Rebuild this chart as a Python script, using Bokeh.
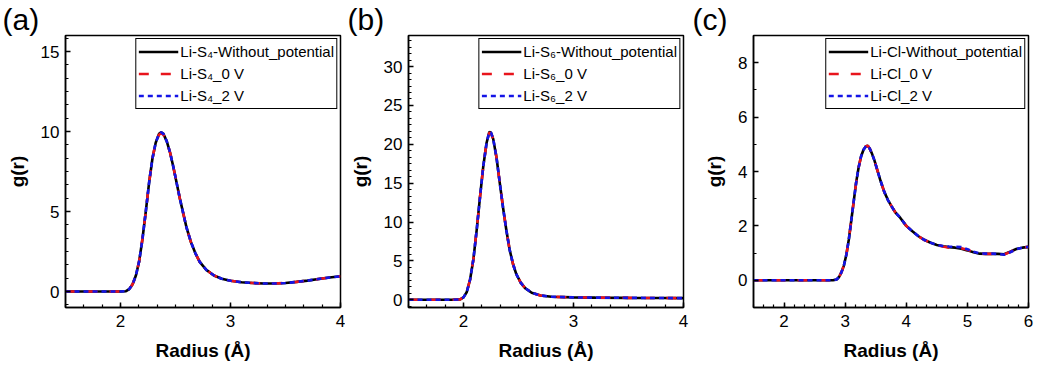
from bokeh.plotting import figure
from bokeh.layouts import row
from bokeh.models import Legend, LegendItem, FixedTicker, Range1d
from bokeh.embed import file_html
from bokeh.resources import INLINE

# ---------------- data ----------------
# (a) Li-S4
r_s4 = [1.5, 1.8, 2.0, 2.05, 2.08, 2.11, 2.14, 2.17, 2.20, 2.23, 2.26, 2.29, 2.32, 2.35, 2.37,
        2.39, 2.42, 2.45, 2.48, 2.51, 2.54, 2.57, 2.60, 2.64, 2.68, 2.72, 2.78, 2.85, 2.92, 3.0,
        3.1, 3.2, 3.3, 3.4, 3.5, 3.6, 3.7, 3.8, 3.9, 4.0]
g_s4_nopot = [0, 0, 0, 0.02, 0.15, 0.45, 1.0, 1.9, 3.3, 5.0, 6.8, 8.3, 9.3, 9.85, 9.95,
              9.85, 9.4, 8.7, 7.8, 6.8, 5.8, 4.9, 4.0, 3.1, 2.4, 1.85, 1.35, 1.0, 0.8, 0.67,
              0.58, 0.53, 0.5, 0.5, 0.53, 0.6, 0.68, 0.78, 0.87, 0.95]
g_s4_0v = [0, 0, 0, 0.02, 0.15, 0.45, 1.0, 1.9, 3.3, 5.0, 6.8, 8.3, 9.3, 9.8, 9.9,
           9.8, 9.4, 8.7, 7.8, 6.8, 5.8, 4.9, 4.0, 3.1, 2.4, 1.85, 1.35, 1.0, 0.8, 0.67,
           0.58, 0.53, 0.5, 0.5, 0.53, 0.6, 0.68, 0.78, 0.87, 0.95]
g_s4_2v = [0, 0, 0, 0.02, 0.15, 0.45, 1.0, 1.9, 3.3, 5.0, 6.8, 8.3, 9.3, 9.85, 9.95,
           9.85, 9.4, 8.7, 7.8, 6.8, 5.8, 4.9, 4.0, 3.1, 2.4, 1.85, 1.35, 1.0, 0.8, 0.67,
           0.58, 0.53, 0.5, 0.5, 0.53, 0.6, 0.68, 0.78, 0.87, 0.95]

# (b) Li-S6
r_s6 = [1.5, 1.9, 1.97, 2.0, 2.03, 2.06, 2.09, 2.12, 2.15, 2.18, 2.21, 2.235, 2.25, 2.27, 2.30,
        2.33, 2.36, 2.39, 2.42, 2.45, 2.48, 2.52, 2.56, 2.62, 2.7, 2.8, 3.0, 3.2, 3.5, 3.8, 4.0]
g_s6_nopot = [0, 0, 0.05, 0.3, 1.0, 2.6, 5.2, 9.0, 13.2, 17.2, 20.2, 21.6, 21.5, 20.7, 18.3,
              15.0, 11.8, 8.9, 6.4, 4.6, 3.3, 2.2, 1.5, 0.9, 0.55, 0.38, 0.3, 0.27, 0.24, 0.22, 0.2]
g_s6_0v = [0, 0, 0.05, 0.3, 1.0, 2.6, 5.2, 9.0, 13.2, 17.2, 20.2, 21.5, 21.4, 20.7, 18.3,
           15.0, 11.8, 8.9, 6.4, 4.6, 3.3, 2.2, 1.5, 0.9, 0.55, 0.38, 0.3, 0.27, 0.24, 0.22, 0.2]
g_s6_2v = [0, 0, 0.05, 0.3, 1.0, 2.6, 5.2, 9.0, 13.2, 17.2, 20.2, 21.6, 21.5, 20.7, 18.3,
           15.0, 11.8, 8.9, 6.4, 4.6, 3.3, 2.2, 1.5, 0.9, 0.55, 0.38, 0.3, 0.27, 0.24, 0.22, 0.2]

# (c) Li-Cl
r_cl = [1.5, 2.5, 2.8, 2.86, 2.90, 2.94, 2.98, 3.02, 3.06, 3.10, 3.14, 3.18, 3.22, 3.26, 3.30,
        3.34, 3.37, 3.40, 3.44, 3.48, 3.52, 3.58, 3.64, 3.70, 3.76, 3.82, 3.90, 4.0, 4.1, 4.2,
        4.3, 4.4, 4.5, 4.6, 4.7, 4.8, 4.9, 5.0, 5.1, 5.2, 5.3, 5.4, 5.5, 5.6, 5.7, 5.8, 5.9, 6.0]
g_cl_nopot = [0, 0, 0, 0.03, 0.12, 0.3, 0.55, 0.95, 1.5, 2.2, 2.9, 3.6, 4.15, 4.55, 4.8,
              4.93, 4.95, 4.85, 4.65, 4.4, 4.1, 3.65, 3.25, 2.95, 2.72, 2.5, 2.3, 2.0, 1.8, 1.62,
              1.48, 1.38, 1.3, 1.25, 1.22, 1.2, 1.16, 1.1, 1.03, 0.98, 0.97, 0.97, 0.97, 0.96, 1.05, 1.15, 1.2, 1.23]
g_cl_0v = [0, 0, 0, 0.03, 0.12, 0.3, 0.55, 0.95, 1.5, 2.2, 2.9, 3.6, 4.15, 4.55, 4.8,
           4.93, 4.95, 4.85, 4.65, 4.4, 4.1, 3.65, 3.25, 2.95, 2.72, 2.5, 2.3, 2.0, 1.8, 1.62,
           1.48, 1.38, 1.3, 1.24, 1.2, 1.2, 1.18, 1.12, 1.04, 0.98, 0.97, 0.97, 0.97, 0.95, 1.04, 1.15, 1.2, 1.23]
g_cl_2v = [0, 0, 0, 0.03, 0.12, 0.3, 0.55, 0.95, 1.5, 2.2, 2.9, 3.6, 4.15, 4.55, 4.8,
           4.93, 4.95, 4.85, 4.65, 4.4, 4.1, 3.65, 3.25, 2.95, 2.72, 2.5, 2.3, 2.0, 1.8, 1.62,
           1.48, 1.38, 1.3, 1.26, 1.24, 1.23, 1.22, 1.14, 1.05, 0.99, 0.98, 0.98, 0.97, 0.94, 1.03, 1.14, 1.2, 1.23]

labels_a = ["Li-S\u2084-Without_potential", "Li-S\u2084_0 V", "Li-S\u2084_2 V"]
labels_b = ["Li-S\u2086-Without_potential", "Li-S\u2086_0 V", "Li-S\u2086_2 V"]
labels_c = ["Li-Cl-Without_potential", "Li-Cl_0 V", "Li-Cl_2 V"]
panel_letters = ["(a)", "(b)", "(c)"]

xticks_ab = [2, 3, 4]
xticks_c = [2, 3, 4, 5, 6]
yticks_a = [0, 5, 10, 15]
yticks_b = [0, 5, 10, 15, 20, 25, 30]
yticks_c = [0, 2, 4, 6, 8]

FONT = "Liberation Sans"
H = 367


def minors(lo, hi, step):
    out = []
    k = int(round(lo / step)) - 1
    while k * step <= hi + 1e-9:
        v = k * step
        if v >= lo - 1e-9:
            out.append(round(v, 6))
        k += 1
    return out


def panel(r, g0, g1, g2, labels, letter, xr, yr, xt, yt, xminor, yminor, width, left, right):
    p = figure(width=width, height=H, x_range=Range1d(*xr), y_range=Range1d(*yr),
               output_backend="svg", toolbar_location=None,
               min_border_left=left, min_border_right=right,
               min_border_top=33, min_border_bottom=60)
    p.grid.visible = False
    p.outline_line_color = "black"
    p.outline_line_width = 1.5
    p.outline_line_alpha = 1.0
    p.background_fill_color = "white"
    p.border_fill_color = "white"

    # panel letter as title, pushed to the left edge of the figure
    p.title.text = letter
    p.title.text_font = FONT
    p.title.text_font_size = "30px"
    p.title.text_font_style = "normal"
    p.title.text_color = "black"
    p.title.align = "left"
    p.title.offset = -left + 2
    p.title.standoff = 0

    p.xaxis.ticker = FixedTicker(ticks=xt, minor_ticks=minors(xr[0], xr[1], xminor))
    p.yaxis.ticker = FixedTicker(ticks=yt, minor_ticks=minors(yr[0], yr[1], yminor))
    for ax in (p.xaxis[0], p.yaxis[0]):
        ax.axis_line_width = 1.5
        ax.axis_line_color = "black"
        ax.major_tick_in = 5
        ax.major_tick_out = 0
        ax.minor_tick_in = 3
        ax.minor_tick_out = 0
        ax.major_tick_line_width = 1.5
        ax.minor_tick_line_width = 1.2
        ax.major_label_text_font = FONT
        ax.major_label_text_font_size = "17px"
        ax.major_label_text_color = "black"
        ax.axis_label_text_font = FONT
        ax.axis_label_text_font_size = "19px"
        ax.axis_label_text_font_style = "bold"
        ax.axis_label_text_color = "black"
    p.xaxis.axis_label = "Radius (\u00c5)"
    p.yaxis.axis_label = "g(r)"
    p.xaxis.major_label_standoff = 7
    p.xaxis.axis_label_standoff = 10
    p.yaxis.major_label_standoff = 6
    p.yaxis.axis_label_standoff = 10

    l0 = p.line(r, g0, line_color="black", line_width=2.6)
    l1 = p.line(r, g1, line_color="#e8141c", line_width=2.6, line_dash="10 12")
    l2 = p.line(r, g2, line_color="#1414e6", line_width=2.6, line_dash="5 4")

    leg = Legend(items=[LegendItem(label=labels[0], renderers=[l0]),
                        LegendItem(label=labels[1], renderers=[l1]),
                        LegendItem(label=labels[2], renderers=[l2])],
                 location="top_right")
    leg.border_line_color = "black"
    leg.border_line_width = 1.5
    leg.border_line_alpha = 1.0
    leg.background_fill_color = "white"
    leg.background_fill_alpha = 1.0
    leg.margin = 3
    leg.padding = 2
    leg.spacing = 1
    leg.label_height = 21
    leg.glyph_height = 21
    leg.glyph_width = 40
    leg.label_standoff = 2
    leg.label_text_font = FONT
    leg.label_text_font_size = "15px"
    leg.label_text_color = "black"
    p.add_layout(leg)
    return p


pa = panel(r_s4, g_s4_nopot, g_s4_0v, g_s4_2v, labels_a, panel_letters[0], (1.5, 4), (-1, 16),
           xticks_ab, yticks_a, 1 / 6, 5 / 6, 345, 65, 5)
pb = panel(r_s6, g_s6_nopot, g_s6_0v, g_s6_2v, labels_b, panel_letters[1], (1.5, 4), (-1, 34),
           xticks_ab, yticks_b, 1 / 6, 5 / 6, 345, 63, 7)
pc = panel(r_cl, g_cl_nopot, g_cl_0v, g_cl_2v, labels_c, panel_letters[2], (1.5, 6), (-1, 9),
           xticks_c, yticks_c, 1 / 6, 1.0, 350, 63, 12)

layout = row(pa, pb, pc, spacing=0)
open("out.html", "w").write(file_html(layout, INLINE))
